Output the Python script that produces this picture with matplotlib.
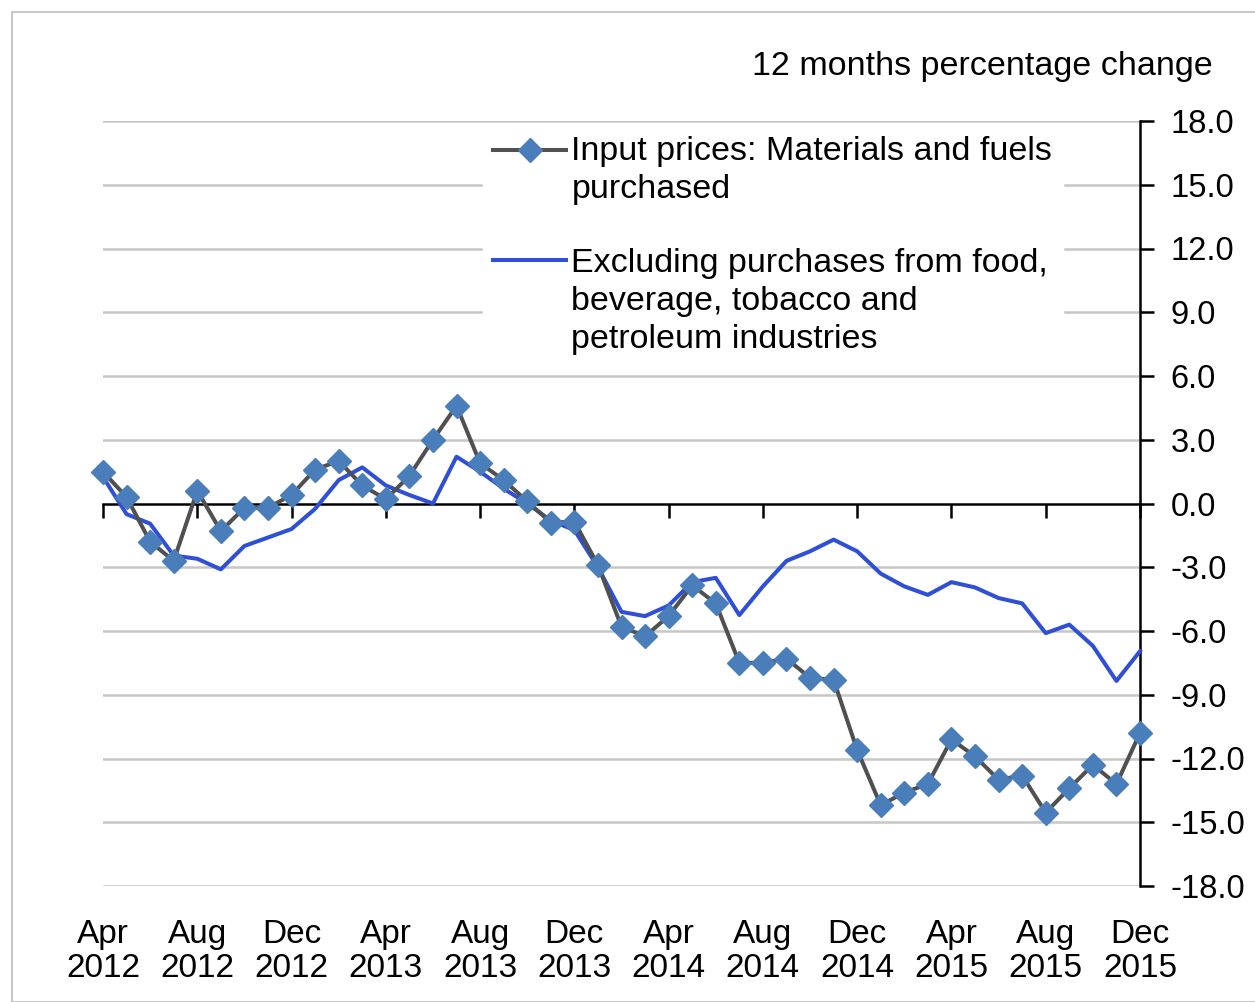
import matplotlib
matplotlib.use("Agg")
import matplotlib.pyplot as plt
from matplotlib.patches import Rectangle
from matplotlib.legend_handler import HandlerLine2D
import numpy as np

plt.rcParams['font.family'] = ['Liberation Sans', 'DejaVu Sans']

months = ["Apr\n2012", "May\n2012", "Jun\n2012", "Jul\n2012", "Aug\n2012", "Sep\n2012", "Oct\n2012", "Nov\n2012",
          "Dec\n2012", "Jan\n2013", "Feb\n2013", "Mar\n2013", "Apr\n2013", "May\n2013", "Jun\n2013", "Jul\n2013",
          "Aug\n2013", "Sep\n2013", "Oct\n2013", "Nov\n2013", "Dec\n2013", "Jan\n2014", "Feb\n2014", "Mar\n2014",
          "Apr\n2014", "May\n2014", "Jun\n2014", "Jul\n2014", "Aug\n2014", "Sep\n2014", "Oct\n2014", "Nov\n2014",
          "Dec\n2014", "Jan\n2015", "Feb\n2015", "Mar\n2015", "Apr\n2015", "May\n2015", "Jun\n2015", "Jul\n2015",
          "Aug\n2015", "Sep\n2015", "Oct\n2015", "Nov\n2015", "Dec\n2015"]

input_prices = [1.5, 0.3, -1.8, -2.7, 0.6, -1.3, -0.2, -0.2, 0.4, 1.6, 2.0, 0.85,
                0.2, 1.3, 3.0, 4.6, 1.9, 1.1, 0.1, -0.9, -0.85, -2.9, -5.8, -6.25,
                -5.3, -3.85, -4.7, -7.5, -7.5, -7.3, -8.2, -8.3, -11.6, -14.2, -13.6, -13.2,
                -11.1, -11.9, -13.0, -12.8, -14.55, -13.4, -12.3, -13.2, -10.8]

excluding = [1.25, -0.5, -0.95, -2.45, -2.6, -3.1, -2.0, -1.6, -1.2, -0.25, 1.1, 1.7,
             0.85, 0.4, 0.0, 2.2, 1.5, 0.7, 0.0, -0.8, -1.25, -3.0, -5.1, -5.3,
             -4.8, -3.7, -3.5, -5.25, -3.9, -2.7, -2.25, -1.7, -2.25, -3.3, -3.9, -4.3,
             -3.7, -3.95, -4.45, -4.7, -6.1, -5.7, -6.7, -8.35, -6.95]

yticks = [18, 15, 12, 9, 6, 3, 0, -3, -6, -9, -12, -15, -18]
title = "12 months percentage change"
label1 = "Input prices: Materials and fuels\npurchased"
label2 = "Excluding purchases from food,\nbeverage, tobacco and\npetroleum industries"

W, H = 1255, 1002
fig = plt.figure(figsize=(W / 100, H / 100), dpi=100)
fig.patch.set_facecolor('white')
fig.patches.append(Rectangle((12 / W, 0), 1.2, 1 - 12 / H, transform=fig.transFigure,
                             fill=False, edgecolor='#c8c8c8', linewidth=1.5))

ax = fig.add_axes([103 / W, 1 - 886 / H, (1140 - 103) / W, (886 - 121) / H])
x = np.arange(len(months))

ax.set_xlim(0, len(months) - 1)
ax.set_ylim(-18, 18)

for yv in yticks:
    if yv != 0:
        ax.axhline(yv, color='#c6c6c6', linewidth=1.8, zorder=0)

l2, = ax.plot(x, excluding, color='#2e4fd6', linewidth=2.9, zorder=3, clip_on=False, label=label2)
l1, = ax.plot(x, input_prices, color='#505050', linewidth=2.9, marker='D', markersize=12.5,
              markerfacecolor='#4a7ebb', markeredgecolor='#4a7ebb', zorder=4, clip_on=False, label=label1)

for s in ['top', 'left']:
    ax.spines[s].set_visible(False)
ax.spines['right'].set_linewidth(1.8)
ax.spines['right'].set_color('black')
ax.spines['bottom'].set_position(('data', 0))
ax.spines['bottom'].set_linewidth(1.8)
ax.spines['bottom'].set_color('black')

ax.yaxis.tick_right()
ax.set_yticks(yticks)
ax.set_yticklabels([f"{v:.1f}" for v in yticks], fontsize=23.5)
ax.tick_params(axis='y', direction='out', length=10, width=1.8, pad=12, colors='black')

tick_idx = list(range(0, len(months), 4))
ax.set_xticks(tick_idx)
ax.set_xticklabels([])
ax.tick_params(axis='x', direction='out', length=10, width=1.8)

sec = ax.secondary_xaxis(0.0)
sec.set_xticks(tick_idx)
sec.set_xticklabels([months[i] for i in tick_idx], fontsize=24, linespacing=1.1)
sec.tick_params(axis='x', length=0, pad=24)
sec.spines['bottom'].set_visible(False)

fig.text(1213 / W, 1 - 67 / H, title, fontsize=24.5, ha='right', va='center')

LEG_FS = 24.5
LEG_LS = 1.3


class TopAlignedHandler(HandlerLine2D):
    def __init__(self, nlines, **kw):
        super().__init__(**kw)
        self.nlines = nlines

    def create_artists(self, legend, orig_handle, xdescent, ydescent, width, height, fontsize, trans):
        arts = super().create_artists(legend, orig_handle, xdescent, ydescent, width, height, fontsize, trans)
        shift = (self.nlines - 1) / 2 * LEG_LS * fontsize * 0.95
        for a in arts:
            a.set_ydata(np.asarray(a.get_ydata(), dtype=float) + shift)
        return arts


leg = fig.legend(handles=[l1, l2], loc='upper left', bbox_to_anchor=(483 / W, 1 - 126 / H),
                 frameon=True, fontsize=LEG_FS, handlelength=2.15, handletextpad=0.15,
                 labelspacing=1.25, borderpad=0.3, borderaxespad=0, fancybox=False,
                 handler_map={l1: TopAlignedHandler(label1.count('\n') + 1),
                              l2: TopAlignedHandler(label2.count('\n') + 1)})
leg.get_frame().set_edgecolor('white')
leg.get_frame().set_facecolor('white')
leg.get_frame().set_alpha(1)
for t in leg.get_texts():
    t.set_linespacing(LEG_LS)

fig.savefig('out.png', dpi=100, facecolor='white')
